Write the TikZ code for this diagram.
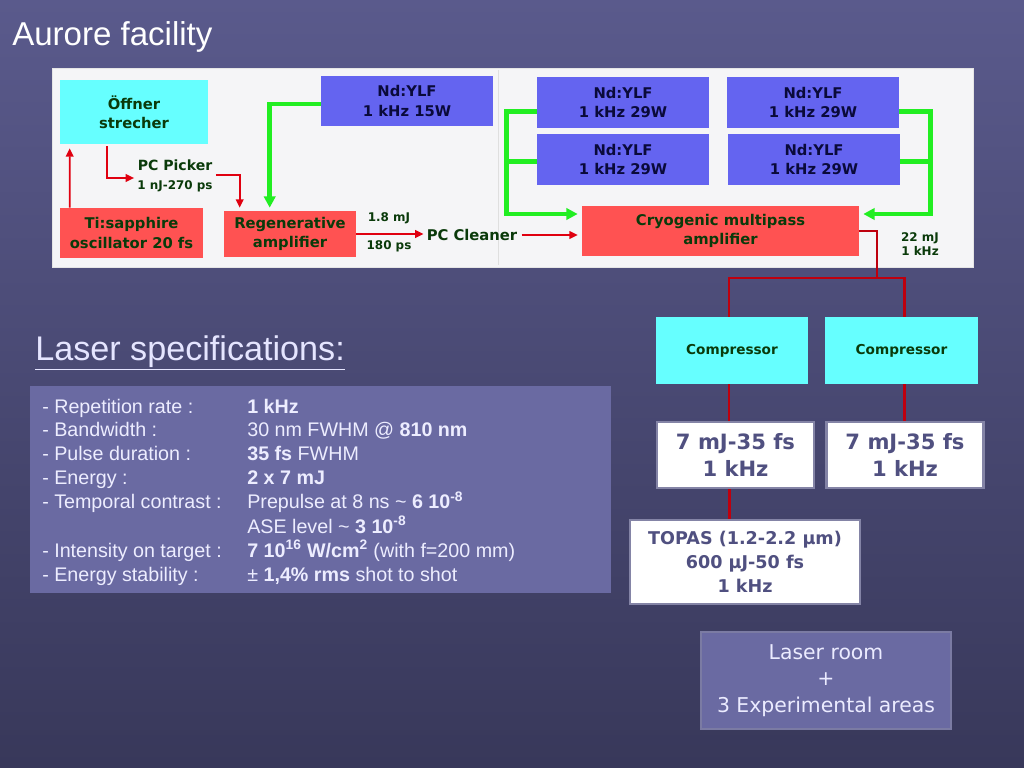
\documentclass[tikz,border=0pt]{standalone}
\usepackage{fontspec}
\setmainfont{Liberation Sans}
\newfontfamily\comic{DejaVu Sans}
\usepackage{tikz}
\usetikzlibrary{arrows.meta, positioning, calc}
\definecolor{slideTop}{HTML}{5A5A8C}
\definecolor{slideBot}{HTML}{38385A}
\definecolor{panelBg}{HTML}{F5F5F7}
\definecolor{ampRed}{HTML}{FF5252}
\definecolor{pumpBlue}{HTML}{6464F0}
\definecolor{optCyan}{HTML}{66FFFF}
\definecolor{darkGreen}{HTML}{0A3A0A}
\definecolor{darkNavy}{HTML}{0A0A3A}
\definecolor{specBg}{HTML}{6A6AA2}
\definecolor{resText}{HTML}{505080}
\definecolor{beamRed}{HTML}{E00010}
\definecolor{pumpGreen}{HTML}{22EE22}

\begin{document}
\begin{tikzpicture}[x=0.025cm, y=-0.025cm,
  every node/.style={inner sep=0pt},
  dims/.style 2 args={minimum width=#1, minimum height=#2},
  boxfont/.style={font=\comic\bfseries\fontsize{10.5}{13.8}\selectfont},
  stage/.style={boxfont, fill=ampRed, text=darkGreen, align=center},
  pumpbox/.style={boxfont, fill=pumpBlue, text=darkNavy, align=center},
  optbox/.style={boxfont, fill=optCyan, text=darkGreen, align=center},
  resbox/.style={fill=white, draw=resText!70, line width=1.6pt, text=resText,
                 align=center, font=\comic\bfseries\fontsize{15}{19}\selectfont},
  roombox/.style={fill=specBg, draw=slideTop!80, line width=0.8pt, text=white!92!blue,
                  align=center, font=\comic\fontsize{14.5}{19}\selectfont},
  tag/.style={text=darkGreen, align=center, font=\comic\bfseries\fontsize{8.5}{10.5}\selectfont},
  sig/.style={-{Triangle[length=6pt,width=5.5pt]}, line width=1.2pt, beamRed},
  pump/.style={-{Triangle[length=8pt,width=8pt]}, line width=3.4pt, pumpGreen},
  wire/.style={line width=1.6pt, beamRed!85!black},
]
  % slide background
  \shade[top color=slideTop, bottom color=slideBot] (0,0) rectangle (1024,768);
  \useasboundingbox (0,0) rectangle (1024,768);

  \node[anchor=base west, text=white, font=\fontsize{23.5}{28}\selectfont] (title) at (12,46) {Aurore facility};

  % layout panel
  \fill[panelBg, draw=white!80!gray] (52,68) rectangle (973,267);
  \draw[gray!25, line width=0.6pt] (498,70) -- (498,265);

  \node[optbox, dims={3.7cm}{1.6cm}] (strecher) at (134,112) {Öffner\\strecher};
  \node[stage, dims={3.575cm}{1.25cm}] (osc) at (131.5,233) {Ti:sapphire\\oscillator 20 fs};
  \node[stage, dims={3.3cm}{1.15cm}] (regen) at (290,234) {Regenerative\\amplifier};
  \node[pumpbox, dims={4.3cm}{1.25cm}] (nd15) at (407,101) {Nd:YLF\\1 kHz 15W};

  \node[pumpbox, dims={4.3cm}{1.275cm}] (ndA) at (623,102.5) {Nd:YLF\\1 kHz 29W};
  \node[pumpbox, dims={4.3cm}{1.275cm}] (ndB) at (623,159.5) {Nd:YLF\\1 kHz 29W};
  \node[pumpbox, dims={4.3cm}{1.275cm}] (ndC) at (813,102.5) {Nd:YLF\\1 kHz 29W};
  \node[pumpbox, dims={4.3cm}{1.275cm}] (ndD) at (814,159.5) {Nd:YLF\\1 kHz 29W};
  \node[stage, dims={6.925cm}{1.25cm}] (cryo) at (720.5,231) {Cryogenic multipass\\amplifier};

  \node[tag, font=\comic\bfseries\fontsize{10}{13}\selectfont] (picker) at (175,176)
    {PC Picker\\{\fontsize{8.5}{10}\selectfont 1 nJ-270 ps}};
  \node[tag, font=\comic\bfseries\fontsize{10.5}{13}\selectfont] (cleaner) at (472,235) {PC Cleaner};
  \node[tag] (eIn) at (389,218) {1.8 mJ};
  \node[tag] (tIn) at (389,246) {180 ps};
  \node[tag] (eOut) at (920,244) {22 mJ\\1 kHz};

  \draw[sig] ($(osc.north west)+(10,0)$) -- ($(strecher.south west)+(10,4)$);
  \draw[sig] ($(strecher.south west)+(47,2)$) |- ($(picker.west)+(-3,2)$);
  \draw[sig] ($(picker.east)+(3,-1)$) -| ($(regen.north west)+(16,-3)$);
  \draw[pump] ($(nd15.west)+(0,3)$) -| ($(regen.north west)+(46,-3)$);
  \draw[sig] (regen.east) -- ($(regen.east -| cleaner.west)+(-3,0)$);
  \draw[sig] ($(cleaner.east)+(4,0)$) -- ($(cleaner.east -| cryo.west)+(-4,0)$);

  \draw[pump] ($(ndA.west)+(0,9)$) -- ++(-30,0) coordinate (gl) |- ($(cryo.west)+(-4,-17)$);
  \draw[pump, -] ($(ndB.west)+(0,2)$) -- ($(ndB.west -| gl)+(0,2)$);
  \draw[pump] ($(ndC.east)+(0,9)$) -- ++(31,0) coordinate (gr) |- ($(cryo.east)+(4,-17)$);
  \draw[pump, -] ($(ndD.east)+(0,2)$) -- ($(ndD.east -| gr)+(0,2)$);

  % compressors and outputs
  \node[optbox, font=\comic\bfseries\fontsize{9.7}{12}\selectfont, dims={3.8cm}{1.675cm}] (compA) at (732,350.5) {Compressor};
  \node[optbox, font=\comic\bfseries\fontsize{9.7}{12}\selectfont, dims={3.8cm}{1.675cm}] (compB) at (901.5,350.5) {Compressor};
  \node[resbox, dims={3.925cm}{1.65cm}] (outA) at (735.5,455) {7 mJ-35 fs\\1 kHz};
  \node[resbox, dims={3.925cm}{1.65cm}] (outB) at (905,455) {7 mJ-35 fs\\1 kHz};
  \node[resbox, font=\comic\bfseries\fontsize{12.5}{17}\selectfont, dims={5.75cm}{2.1cm}] (topas) at (745,562)
    {TOPAS (1.2-2.2 μm)\\600 μJ-50 fs\\1 kHz};
  \node[roombox, dims={6.25cm}{2.425cm}] (room) at (826,680.5) {Laser room\\+\\3 Experimental areas};

  \coordinate (split) at (877,278);
  \draw[wire] (cryo.east) -| (split);
  \draw[wire] (split) -| ($(compA.north)+(-3,0)$);
  \draw[wire] (split) -| ($(compB.north)+(3,0)$);
  \draw[wire] ($(compA.south)+(-3,0)$) -- ($(compA.south |- outA.north)+(-3,0)$);
  \draw[wire] ($(compB.south)+(3,0)$) -- ($(compB.south |- outB.north)+(3,0)$);
  \draw[wire] ($(outA.south)+(-6,0)$) -- ($(outA.south |- topas.north)+(-6,0)$);

  % specifications
  \node[anchor=base west, text=white!90!blue, font=\fontsize{24.3}{29}\selectfont] (spechead) at (35,360)
    {\underline{Laser specifications:}};
  \fill[specBg] (30,386) rectangle (611,593);
  \node[anchor=north west, text=white!93!blue, font=\fontsize{14}{17}\selectfont] (specs) at (42,396)
    {\begin{tabular}{@{}p{5.125cm}@{}l@{}}
     - Repetition rate : & \textbf{1 kHz}\\
     - Bandwidth : & 30 nm FWHM @ \textbf{810 nm}\\
     - Pulse duration : & \textbf{35 fs} FWHM\\
     - Energy : & \textbf{2 x 7 mJ}\\
     - Temporal contrast : & Prepulse at 8 ns \textasciitilde{} \textbf{6 10\textsuperscript{-8}}\\
      & ASE level \textasciitilde{} \textbf{3 10\textsuperscript{-8}}\\
     - Intensity on target : & \textbf{7 10\textsuperscript{16} W/cm\textsuperscript{2}} (with f=200 mm)\\
     - Energy stability : & ± \textbf{1,4\% rms} shot to shot
     \end{tabular}};
\end{tikzpicture}
\end{document}
